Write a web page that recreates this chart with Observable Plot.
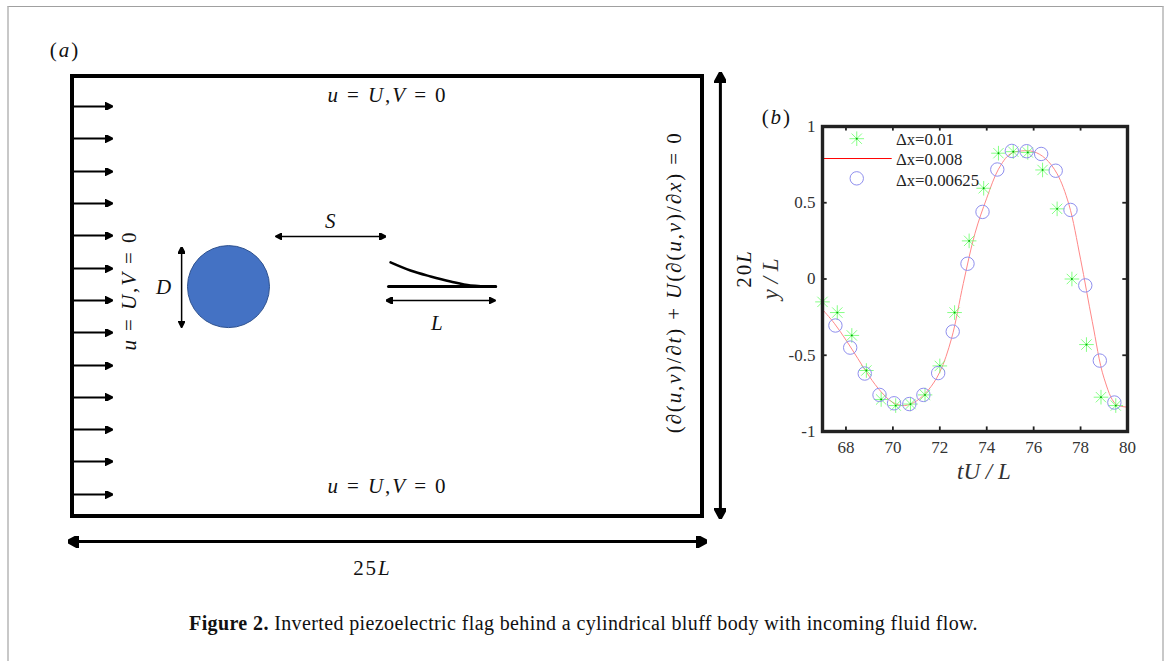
<!DOCTYPE html>
<html><head><meta charset="utf-8">
<script src="https://cdn.jsdelivr.net/npm/d3@7"></script>
<script src="https://cdn.jsdelivr.net/npm/@observablehq/plot@0.6"></script>
<style>
html,body{margin:0;padding:0;background:#fff;width:1167px;height:661px;overflow:hidden}
#page{position:relative;width:1167px;height:661px}
#edge{position:absolute;left:7px;top:6px;right:3px;bottom:0;border-top:1px solid #a0a0a0;border-left:2px solid #c8c8c8;border-right:2px solid #c8c8c8;box-sizing:border-box}
#a,#b{position:absolute}
#a{left:0;top:0}
#b{left:750px;top:100px}
#caption{position:absolute;left:0;width:1167px;top:612px;text-align:center;font:20px "Liberation Serif",serif;letter-spacing:.38px;color:#111}
svg text{font-family:"Liberation Serif",serif}
.math text{letter-spacing:1.9px}
</style></head><body>
<div id="page"><div id="edge"></div><div id="a"></div><div id="b"></div>
<div id="caption"><b>Figure 2.</b> Inverted piezoelectric flag behind a cylindrical bluff body with incoming fluid flow.</div></div>
<script>
// ---- panel (b) data -------------------------------------------------
const starX = [67,67.63,68.25,68.87,69.5,70.12,70.75,71.37,72,72.63,73.25,73.87,74.5,75.13,75.75,76.38,77,77.63,78.25,78.87,79.5];
const starY = [-0.15,-0.22,-0.37,-0.6,-0.79,-0.83,-0.82,-0.76,-0.57,-0.22,0.25,0.595,0.825,0.835,0.83,0.715,0.46,0,-0.43,-0.775,-0.83];
const ringX = [67.55,68.18,68.8,69.43,70.05,70.7,71.3,71.93,72.55,73.18,73.82,74.45,75.07,75.7,76.32,76.94,77.57,78.2,78.82,79.44];
const ringY = [-0.305,-0.45,-0.62,-0.76,-0.815,-0.82,-0.76,-0.617,-0.345,0.1,0.44,0.718,0.84,0.838,0.82,0.71,0.453,-0.042,-0.535,-0.81];
const lineX = [67,67.5,68,68.5,69,69.5,70,70.5,71,71.5,72,72.5,73,73.5,74,74.5,75,75.5,76,76.5,77,77.5,78,78.5,79,79.5,80];
const lineY = [-0.2,-0.29,-0.4,-0.52,-0.64,-0.74,-0.81,-0.83,-0.8,-0.73,-0.61,-0.39,-0.03,0.3,0.53,0.72,0.82,0.84,0.835,0.79,0.69,0.49,0.13,-0.28,-0.65,-0.82,-0.84];
const xTicks = [68,70,72,74,76,78,80];
const yTicks = [-1,-0.5,0,0.5,1];
const legendLabels = ["Δx=0.01","Δx=0.008","Δx=0.00625"];
const legendY = [0.92,0.79,0.66];
const legendTextY = [0.915,0.785,0.645];
// ---- panel (a) data, in units of L ----------------------------------
const inletRows = [18.64,17.18,15.68,14.23,12.77,11.27,9.82,8.36,6.86,5.41,3.95,2.5,1.0];
const flagRestX = [12.54,16.79];
const flagRestY = [10.45,10.45];
const flagBentX = [12.62,13.41,14.21,15.0,15.79,16.79];
const flagBentY = [11.55,11.18,10.91,10.68,10.5,10.45];

// filled arrow head used as a line marker
function head(length, width){
  return (color, context) => {
    const ns = "http://www.w3.org/2000/svg", doc = context.document;
    const m = doc.createElementNS(ns,"marker");
    m.setAttribute("viewBox",`0 ${-width/2} ${length} ${width}`);
    m.setAttribute("markerUnits","userSpaceOnUse");
    m.setAttribute("markerWidth",length);
    m.setAttribute("markerHeight",width);
    m.setAttribute("refX",1);
    m.setAttribute("refY",0);
    m.setAttribute("orient","auto-start-reverse");
    const p = doc.createElementNS(ns,"path");
    p.setAttribute("d",`M0,${-width/2}L${length},0L0,${width/2}Z`);
    p.setAttribute("fill",color);
    m.append(p);
    return m;
  };
}
// letters become italic, everything else stays upright
function italicize(root, selector){
  root.querySelectorAll(selector+" text").forEach(t=>{
    const s=t.textContent; t.textContent="";
    for(const part of s.match(/[A-Za-z]+|[^A-Za-z]+/g)){
      const ts=document.createElementNS("http://www.w3.org/2000/svg","tspan");
      ts.textContent=part;
      if(/[A-Za-z]/.test(part)) ts.setAttribute("font-style","italic");
      t.append(ts);
    }
  });
}
const link=(x1,y1,x2,y2,w,mk)=>Plot.link([0],{x1:()=>x1,y1:()=>y1,x2:()=>x2,y2:()=>y2,stroke:"#000",strokeWidth:w,markerStart:mk,markerEnd:mk});
const math=(s,x,y,o={})=>Plot.text([s],{x:()=>x,y:()=>y,text:d=>d,fontSize:21,fill:"#111",className:"math",...o});

const inletHead=head(8,8), bigHead=head(11,12), smallHead=head(7,7);
const plotA = Plot.plot({
  width:760,height:600,marginLeft:72,marginRight:58,marginTop:76,marginBottom:84,
  x:{domain:[0,25],axis:null},y:{domain:[0,20],axis:null},
  marks:[
    Plot.rect([0],{x1:()=>0,x2:()=>25,y1:()=>0,y2:()=>20,fill:"none",stroke:"#000",strokeWidth:4}),
    Plot.link(inletRows,{x1:()=>0,x2:()=>1.31,y1:d=>d,y2:d=>d,stroke:"#000",strokeWidth:2,markerEnd:inletHead}),
    Plot.dot([0],{x:()=>6.19,y:()=>10.45,r:41,fill:"#4472c4",stroke:"#2f528f",strokeWidth:1}),
    Plot.line(flagRestX.map((x,i)=>[x,flagRestY[i]]),{x:d=>d[0],y:d=>d[1],stroke:"#000",strokeWidth:3}),
    Plot.line(flagBentX.map((x,i)=>[x,flagBentY[i]]),{x:d=>d[0],y:d=>d[1],stroke:"#000",strokeWidth:2.5,curve:"monotone-x"}),
    link(8.29,12.73,12.22,12.73,1.5,smallHead),
    link(12.66,9.82,16.55,9.82,1.5,smallHead),
    link(4.33,12.0,4.33,8.86,1.5,smallHead),
    link(0.2,-1.14,24.8,-1.14,3,bigHead),
    link(25.71,19.73,25.71,0.36,3,bigHead),
    math("u = U,V = 0",12.5,19.14),
    math("u = U,V = 0",12.5,1.36),
    math("u = U,V = 0",2.25,10.27,{rotate:-90}),
    math("(∂(u,v)/∂t) + U(∂(u,v)/∂x) = 0",23.89,10.64,{rotate:-90}),
    math("S",10.27,13.4),
    math("L",14.5,8.8),
    math("D",3.65,10.4),
    math("25L",11.9,-2.35),
    math("20L",26.67,11.27,{rotate:-90}),
    math("(a)",-0.3,21.2)
  ]
});
italicize(plotA,".math");
document.getElementById("a").append(plotA);

const star8={draw(c,size){const r=Math.sqrt(size/Math.PI);const k=r*Math.SQRT1_2;
  c.moveTo(-r,0);c.lineTo(r,0);c.moveTo(0,-r);c.lineTo(0,r);c.moveTo(-k,-k);c.lineTo(k,k);c.moveTo(-k,k);c.lineTo(k,-k);}};
const starData=starX.map((x,i)=>[x,starY[i]]);
const ringData=ringX.map((x,i)=>[x,ringY[i]]);
const lineData=lineX.map((x,i)=>[x,lineY[i]]);
const plotB = Plot.plot({
  width:400,height:390,marginLeft:72,marginRight:23,marginTop:26,marginBottom:59,
  x:{domain:[67,80]},y:{domain:[-1,1]},
  style:{background:"transparent"},
  marks:[
    Plot.line(lineData,{x:d=>d[0],y:d=>d[1],stroke:"#f88",strokeWidth:1,curve:"catmull-rom"}),
    Plot.dot(starData,{x:d=>d[0],y:d=>d[1],symbol:star8,r:7.3,stroke:"#6f6",strokeWidth:.8}),
    Plot.dot(starData,{x:d=>d[0],y:d=>d[1],r:0.9,fill:"#0a0",stroke:"none"}),
    Plot.dot(ringData,{x:d=>d[0],y:d=>d[1],r:6.7,stroke:"#8f8fee",strokeWidth:1,fill:"none"}),
    // legend
    Plot.dot([0],{x:()=>68.46,y:()=>legendY[0],symbol:star8,r:7.3,stroke:"#6f6",strokeWidth:.8}),
    Plot.dot([0],{x:()=>68.46,y:()=>legendY[0],r:0.9,fill:"#0a0",stroke:"none"}),
    Plot.link([0],{x1:()=>67,x2:()=>69.95,y1:()=>legendY[1],y2:()=>legendY[1],stroke:"#f00",strokeWidth:1}),
    Plot.dot([0],{x:()=>68.46,y:()=>legendY[2],r:6.7,stroke:"#8f8fee",strokeWidth:1,fill:"none"}),
    Plot.text(legendLabels,{x:()=>70.13,y:(d,i)=>legendTextY[i],text:d=>d,textAnchor:"start",fontSize:16.8,fill:"#222"}),
    // inward ticks on all four sides
    Plot.ruleX(xTicks,{x:d=>d,y1:()=>-1,y2:()=>-0.97,stroke:"#222",strokeWidth:1.8}),
    Plot.ruleX(xTicks,{x:d=>d,y1:()=>1,y2:()=>0.97,stroke:"#222",strokeWidth:1.8}),
    Plot.ruleY(yTicks,{y:d=>d,x1:()=>67,x2:()=>67.2,stroke:"#222",strokeWidth:1.8}),
    Plot.ruleY(yTicks,{y:d=>d,x1:()=>80,x2:()=>79.8,stroke:"#222",strokeWidth:1.8}),
    Plot.frame({stroke:"#222",strokeWidth:3.4}),
    Plot.axisX({ticks:xTicks,tickSize:0,tickPadding:9,tickFormat:d=>String(d),fontSize:17,color:"#333",label:null}),
    Plot.axisY({ticks:yTicks,tickSize:0,tickPadding:7,tickFormat:d=>String(d),fontSize:17,color:"#333",label:null}),
    Plot.text(["tU / L"],{x:()=>73.88,y:()=>-1.262,text:d=>d,fontSize:23,fontStyle:"italic",fill:"#333"}),
    Plot.text(["y / L"],{x:()=>64.8,y:()=>0,text:d=>d,rotate:-90,fontSize:23,fontStyle:"italic",fill:"#333"}),
    Plot.text(["(b)"],{x:()=>65.05,y:()=>1.06,text:d=>d,fontSize:21,fill:"#111",className:"math"})
  ]
});
italicize(plotB,".math");
document.getElementById("b").append(plotB);
</script>
</body></html>
